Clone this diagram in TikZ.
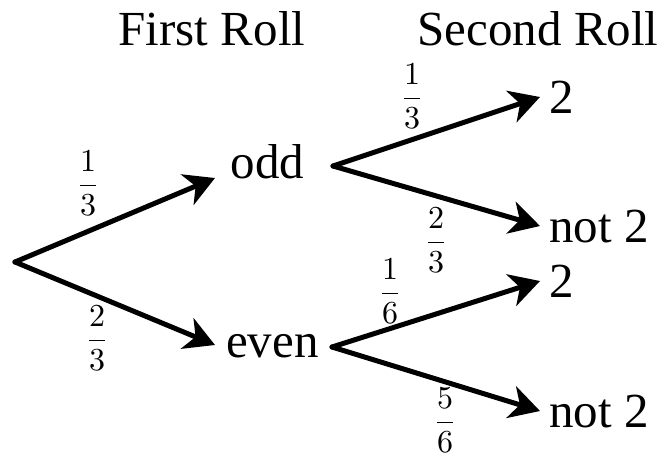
\RequirePackage{fix-cm}
\documentclass[tikz,border=0pt]{standalone}
\usepackage[no-math]{fontspec}
\newfontfamily\labelfont{Liberation Serif}
\usetikzlibrary{arrows.meta}
% scale the 10pt design of the math digits for the large fractions
\DeclareFontShape{OT1}{cmr}{m}{n}{<-> cmr10}{}
\newcommand{\bigfrac}[2]{$\displaystyle\frac{#1}{#2}$}
\begin{document}
\begin{tikzpicture}[x=1pt,y=-1pt,
  branch/.style={line width=5pt, line cap=round,
    -{Stealth[length=30pt,width=33pt,inset=9pt]}},
  heading/.style={font=\labelfont\fontsize{49}{56}\selectfont,
    anchor=base, inner sep=0pt},
  stage/.style={font=\labelfont\fontsize{49}{56}\selectfont,
    anchor=base west, inner xsep=11pt, inner ysep=0pt,
    text height=24pt, text depth=0pt},
  leaf/.style={font=\labelfont\fontsize{49}{56}\selectfont,
    anchor=base west, inner xsep=9pt, inner ysep=0pt,
    text height=32pt, text depth=0pt},
  prob/.style={font=\fontsize{32}{38}\selectfont, inner sep=0pt}]

\path[use as bounding box] (0,0) rectangle (663,458);

% column headings
\node[heading] (h1) at (212,45) {First Roll};
\node[heading] (h2) at (538,45) {Second Roll};

% tree vertices
\coordinate (root) at (15,262);
\node[stage, inner xsep=15.5pt] (odd) at (215,178) {odd};
\node[stage] (even) at (215,357) {even};
\coordinate (oddfork) at (333,166);
\coordinate (evenfork) at (332,347);
\node[leaf] (a2) at (540,113) {2};
\node[leaf] (anot) at (540,242) {not 2};
\node[leaf] (b2) at (540,297) {2};
\node[leaf] (bnot) at (540,427) {not 2};

% branches
\draw[branch] (root) -- (odd.base west);
\draw[branch] (root) -- (even.west);
\draw[branch] (oddfork) -- (a2.west);
\draw[branch] (oddfork) -- (anot.west);
\draw[branch] (evenfork) -- (b2.west);
\draw[branch] (evenfork) -- (bnot.west);

% branch probabilities
\node[prob] (p1) at (88,183) {\bigfrac{1}{3}};
\node[prob] (p2) at (97,338) {\bigfrac{2}{3}};
\node[prob] (p3) at (412,96) {\bigfrac{1}{3}};
\node[prob] (p4) at (436,240) {\bigfrac{2}{3}};
\node[prob] (p5) at (390,291) {\bigfrac{1}{6}};
\node[prob] (p6) at (445,420) {\bigfrac{5}{6}};
\end{tikzpicture}
\end{document}
